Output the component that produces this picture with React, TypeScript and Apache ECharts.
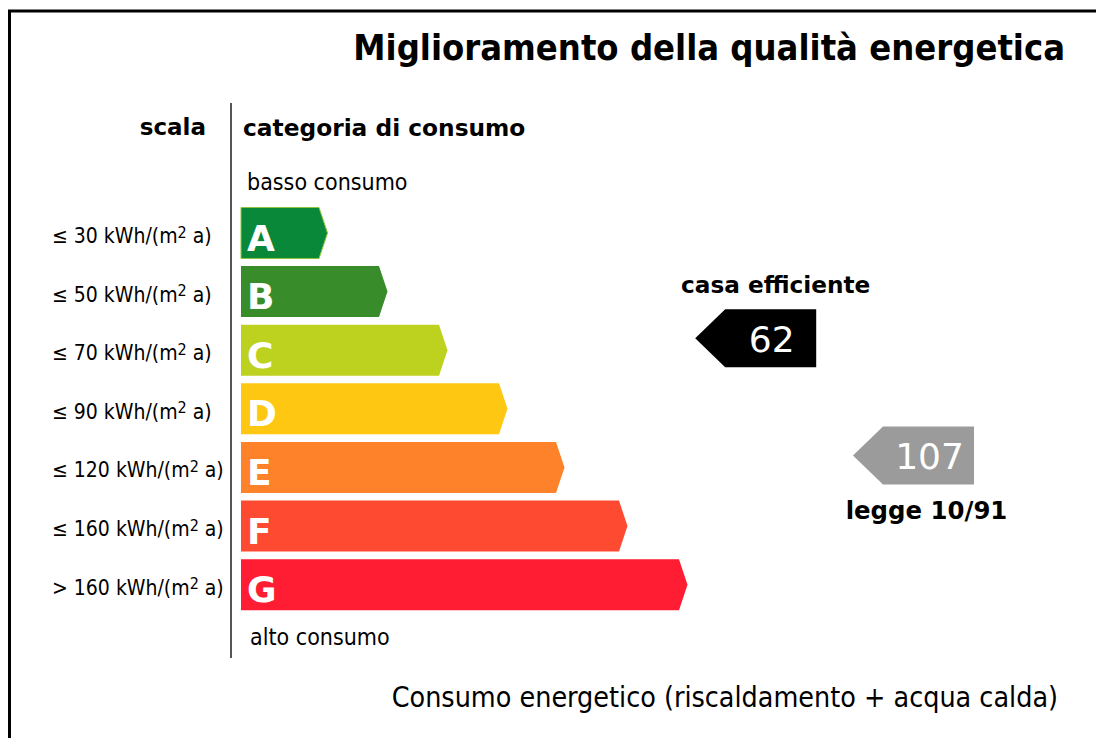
import React, { useEffect, useRef } from "react";
import * as echarts from "echarts";

// ---- data ----
const categories = ["A", "B", "C", "D", "E", "F", "G"];
const scaleLabels = [
  "≤ 30 kWh/(m{sup|2} a)",
  "≤ 50 kWh/(m{sup|2} a)",
  "≤ 70 kWh/(m{sup|2} a)",
  "≤ 90 kWh/(m{sup|2} a)",
  "≤ 120 kWh/(m{sup|2} a)",
  "≤ 160 kWh/(m{sup|2} a)",
  "> 160 kWh/(m{sup|2} a)",
];
const barLength = [1.3, 2.3, 3.3, 4.3, 5.25, 6.3, 7.3];
const barColors = ["#088838", "#388c2a", "#bdd11f", "#fdc712", "#fe8229", "#fe4a30", "#fe1d32"];

const markerValues = [62, 107];
const markerCategories = ["C", "E"];
const markerCaptions = ["casa efficiente", "legge 10/91"];
const markerColors = ["#000000", "#9b9b9b"];
const markerCaptionSide = ["top", "bottom"];
const markerCaptionDx = [5, -2];
const markerTipPos = [7.57, 10.2];

const titleText = "Miglioramento della qualità energetica";
const footerText = "Consumo energetico (riscaldamento + acqua calda)";

const COND = "'DejaVu Sans Condensed', 'DejaVu Sans', sans-serif";
const SANS = "'DejaVu Sans', Verdana, sans-serif";

export default function App() {
  const ref = useRef<HTMLDivElement>(null);
  useEffect(() => {
    document.body.style.margin = "0";
    const chart = echarts.init(ref.current!, null, { renderer: "svg" });
    const option: any = {
      animation: false,
      backgroundColor: "#ffffff",
      title: {
        text: titleText,
        right: 26,
        top: 24,
        textStyle: { fontFamily: COND, fontWeight: "bold", fontSize: 36, color: "#000" },
      },
      grid: { left: 241, top: 203.7, width: 780, height: 410.3 },
      xAxis: { type: "value", min: 0, max: 13, show: false },
      yAxis: {
        type: "category",
        data: categories,
        inverse: true,
        axisLine: { show: false },
        axisTick: { show: false },
        splitLine: { show: false },
        axisLabel: {
          align: "left",
          margin: 189,
          fontFamily: COND,
          fontSize: 21,
          color: "#000",
          lineHeight: 24,
          padding: [6, 0, 0, 0],
          formatter: (_v: string, i: number) => scaleLabels[i],
          rich: {
            sup: { fontFamily: COND, fontSize: 16, lineHeight: 24, verticalAlign: "top", color: "#000" },
          },
        },
      },
      graphic: [
        {
          type: "rect",
          shape: { x: 9.5, y: 11, width: 1300, height: 900 },
          style: { fill: "none", stroke: "#000", lineWidth: 3 },
          silent: true,
        },
        {
          type: "line",
          shape: { x1: 231, y1: 103, x2: 231, y2: 658 },
          style: { stroke: "#555", lineWidth: 2 },
        },
        {
          type: "text",
          style: { text: "scala", x: 206, y: 127, align: "right", verticalAlign: "middle", textAlign: "right", textVerticalAlign: "middle", font: `bold 23px ${SANS}`, fill: "#000" },
        },
        {
          type: "text",
          style: { text: "categoria di consumo", x: 243, y: 127, align: "left", verticalAlign: "middle", textAlign: "left", textVerticalAlign: "middle", font: `bold 23.3px ${SANS}`, fill: "#000" },
        },
        {
          type: "text",
          style: { text: "basso consumo", x: 247, y: 182, align: "left", verticalAlign: "middle", textAlign: "left", textVerticalAlign: "middle", font: `23px ${COND}`, fill: "#000" },
        },
        {
          type: "text",
          style: { text: "alto consumo", x: 250, y: 637, align: "left", verticalAlign: "middle", textAlign: "left", textVerticalAlign: "middle", font: `23px ${COND}`, fill: "#000" },
        },
        {
          type: "text",
          style: { text: footerText, x: 1058, y: 697, align: "right", verticalAlign: "middle", textAlign: "right", textVerticalAlign: "middle", font: `28.4px ${COND}`, fill: "#000" },
        },
      ],
      series: [
        {
          type: "custom",
          data: barLength.map((v, i) => [v, i]),
          encode: { x: 0, y: 1 },
          renderItem: (params: any, api: any) => {
            const idx = api.value(1);
            const end = api.coord([api.value(0), idx]);
            const start = api.coord([0, idx]);
            const band = api.size([0, 1])[1];
            const h = band * 0.87;
            const yc = end[1];
            const top = yc - h / 2;
            const bot = yc + h / 2;
            const tip = 8.5;
            return {
              type: "group",
              children: [
                {
                  type: "polygon",
                  shape: {
                    points: [
                      [start[0], top],
                      [end[0], top],
                      [end[0] + tip, yc],
                      [end[0], bot],
                      [start[0], bot],
                    ],
                  },
                  style: { fill: barColors[idx], stroke: idx === 0 ? "#8fc43a" : "none", lineWidth: 1 },
                },
                {
                  type: "text",
                  style: {
                    text: categories[idx],
                    x: start[0] + 6,
                    y: yc + 5,
                    align: "left",
                    verticalAlign: "middle",
                    textAlign: "left",
                    textVerticalAlign: "middle",
                    font: `bold 36px ${SANS}`,
                    fill: "#fff",
                  },
                },
              ],
            };
          },
        },
        {
          type: "custom",
          data: markerValues.map((v, i) => [markerTipPos[i], categories.indexOf(markerCategories[i]), v]),
          encode: { x: 0, y: 1 },
          renderItem: (params: any, api: any) => {
            const i = params.dataIndex;
            const p = api.coord([api.value(0), api.value(1)]);
            const x0 = p[0];
            const yc = p[1] - 12;
            const hh = 29;
            const slant = 30;
            const rectW = 91;
            const x2 = x0 + slant + rectW;
            const rectMid = x0 + slant + rectW / 2;
            const capY = markerCaptionSide[i] === "top" ? yc - hh - 25 : yc + hh + 26;
            return {
              type: "group",
              children: [
                {
                  type: "polygon",
                  shape: {
                    points: [
                      [x0, yc],
                      [x0 + slant, yc - hh],
                      [x2, yc - hh],
                      [x2, yc + hh],
                      [x0 + slant, yc + hh],
                    ],
                  },
                  style: { fill: markerColors[i] },
                },
                {
                  type: "text",
                  style: {
                    text: String(markerValues[i]),
                    x: rectMid + 1,
                    y: yc + 1,
                    align: "center",
                    verticalAlign: "middle",
                    textAlign: "center",
                    textVerticalAlign: "middle",
                    font: `36px ${SANS}`,
                    fill: "#fff",
                  },
                },
                {
                  type: "text",
                  style: {
                    text: markerCaptions[i],
                    x: rectMid + markerCaptionDx[i],
                    y: capY,
                    align: "center",
                    verticalAlign: "middle",
                    textAlign: "center",
                    textVerticalAlign: "middle",
                    font: `bold ${i === 0 ? 23.2 : 24.4}px ${SANS}`,
                    fill: "#000",
                  },
                },
              ],
            };
          },
        },
      ],
    };
    chart.setOption(option);
    return () => chart.dispose();
  }, []);
  return <div ref={ref} style={{ width: 1096, height: 738 }} />;
}
